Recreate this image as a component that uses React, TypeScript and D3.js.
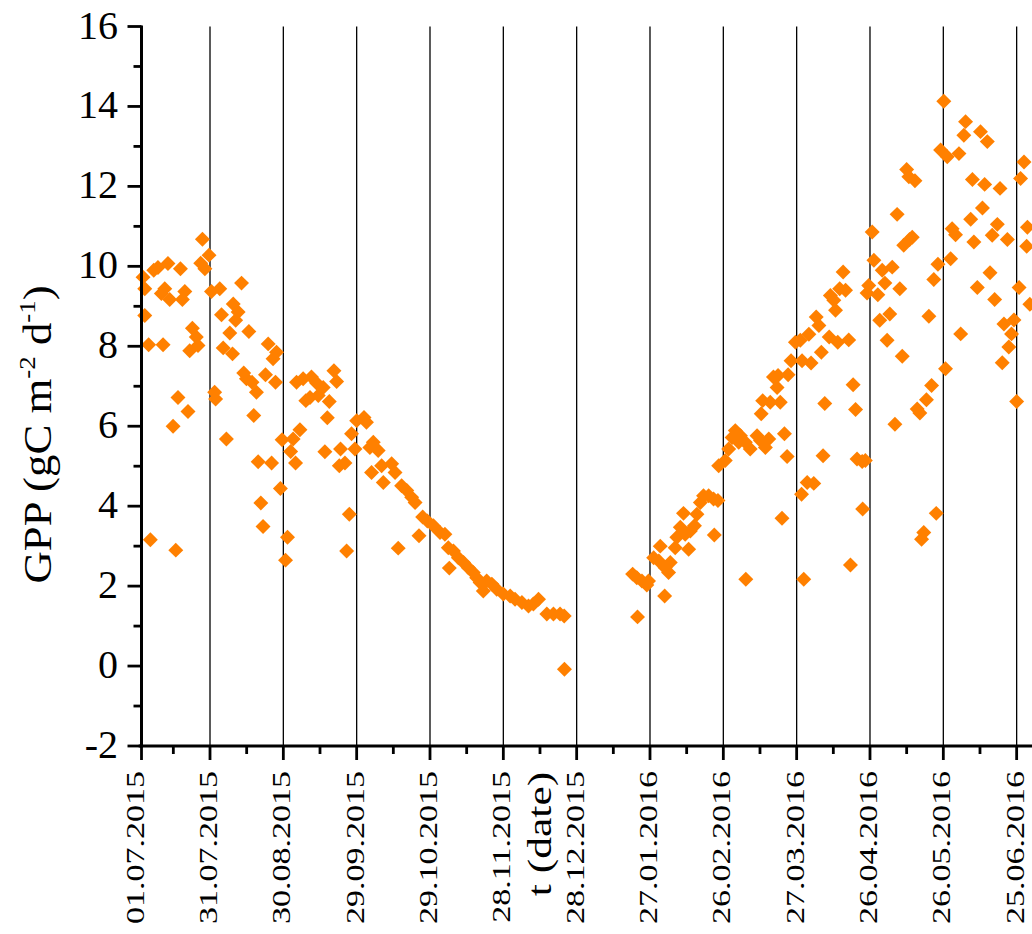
import React from "react";
import * as d3 from "d3";

// ---- data ----
const START_DATE = "2015-07-01";
const END_DATE = "2016-07-01";

const X_TICK_LABELS = [
  "01.07.2015", "31.07.2015", "30.08.2015", "29.09.2015", "29.10.2015",
  "28.11.2015", "28.12.2015", "27.01.2016", "26.02.2016", "27.03.2016",
  "26.04.2016", "26.05.2016", "25.06.2016",
];

const Y_TICKS = [-2, 0, 2, 4, 6, 8, 10, 12, 14, 16];
const Y_MINOR = [-1, 1, 3, 5, 7, 9, 11, 13, 15];

// day offset since 01.07.2015
const DAY_OFFSET = [
  2.6, 3.3, 3.3, 4.9, 5.6, 7.0, 8.7, 10.1, 10.8, 11.5, 12.8, 13.5, 14.9, 16.0, 16.9, 17.9, 18.7, 19.7,
  21.0, 21.7, 22.8, 24.4, 25.1, 26.2, 26.9, 27.9, 29.6, 30.6, 31.9, 32.3, 34.0, 34.7, 35.4, 36.7, 38.1,
  39.2, 39.5, 40.5, 41.5, 42.9, 43.8, 44.9, 45.9, 47.2, 47.9, 49.0, 49.7, 50.8, 51.7, 52.7, 53.8, 55.2,
  55.8, 56.8, 57.2, 58.8, 59.5, 60.9, 61.7, 63.0, 64.0, 65.0, 65.4, 66.8, 68.1, 69.2, 70.9, 71.5, 73.6,
  74.3, 76.3, 77.0, 78.0, 78.8, 80.7, 81.8, 82.9, 83.4, 85.2, 85.9, 87.0, 87.9, 89.3, 90.0, 93.0, 94.0,
  95.4, 96.1, 96.8, 98.8, 100.2, 100.9, 104.3, 105.7, 107.0, 108.4, 110.5, 112.5, 113.9, 115.5, 117.0,
  118.9, 121.4, 124.1, 126.1, 127.5, 127.9, 129.6, 131.6, 133.7, 135.7, 137.7, 139.1, 140.5, 141.8,
  143.2, 145.3, 147.3, 150.0, 152.8, 154.8, 157.6, 160.3, 162.3, 164.4, 167.8, 170.5, 173.2, 174.9, 175.0,
  202.9, 204.6, 204.9, 206.7, 208.7, 209.4, 211.5, 213.6, 214.2, 216.0, 216.2, 217.6, 218.3, 220.3,
  221.0, 222.4, 223.7, 224.4, 225.8, 226.5, 228.2, 229.2, 230.6, 231.9, 234.0, 236.0, 236.3, 237.8,
  238.1, 240.8, 242.2, 243.6, 244.9, 246.3, 247.0, 249.0, 249.2, 251.0, 253.8, 255.2, 255.5, 256.1,
  257.2, 258.6, 259.2, 260.5, 262.0, 262.4, 263.3, 264.0, 265.0, 266.1, 266.5, 267.7, 269.5, 271.5,
  272.0, 272.2, 272.9, 274.3, 275.0, 275.9, 277.0, 278.0, 279.1, 280.1, 280.8, 281.5, 283.3, 283.8,
  285.2, 285.9, 286.8, 287.6, 289.0, 290.0, 291.3, 292.0, 293.1, 294.1, 294.7, 296.8, 297.0, 298.1,
  298.8, 299.5, 300.9, 301.6, 303.2, 304.0, 305.0, 306.1, 307.0, 308.1, 309.1, 310.2, 311.1, 312.2,
  313.2, 313.8, 315.0, 315.9, 316.2, 317.3, 318.4, 319.3, 320.4, 321.1, 322.0, 323.1, 324.1, 325.2,
  326.1, 327.1, 327.8, 328.9, 330.2, 330.9, 331.6, 333.0, 333.6, 335.0, 336.4, 337.1, 338.4, 339.1,
  341.2, 341.9, 342.5, 343.9, 345.2, 346.0, 346.9, 348.0, 349.1, 350.0, 351.0, 352.1, 353.2, 354.1,
  354.8, 356.2, 356.8, 357.9, 358.9, 360.0, 361.0, 361.6, 363.0, 364.1, 364.4, 365.4,
];

const GPP = [
  9.73, 9.44, 8.77, 8.04, 3.16, 9.90, 9.97, 9.32, 8.04, 9.44, 10.07, 9.17, 6.00, 2.90, 6.72, 9.94, 9.17, 9.37,
  6.37, 7.89, 8.45, 8.23, 8.02, 10.08, 10.68, 9.94, 10.28, 9.37, 6.85, 6.68, 9.44, 8.79, 7.96, 5.68, 8.33,
  7.81, 9.06, 8.65, 8.86, 9.58, 7.33, 7.19, 8.37, 7.10, 6.27, 6.85, 5.11, 4.08, 3.49, 7.29, 8.06, 5.08,
  7.69, 7.10, 7.85, 4.44, 5.66, 2.65, 3.22, 5.37, 5.68, 5.08, 7.10, 5.91, 7.19, 6.64, 6.72, 7.23, 7.08,
  6.77, 6.97, 5.36, 6.21, 6.62, 7.39, 7.12, 5.01, 5.43, 5.08, 2.88, 3.80, 5.81, 5.43, 6.14, 6.22, 6.10,
  5.47, 4.84, 5.60, 5.39, 5.01, 4.59, 5.06, 4.84, 2.95, 4.51, 4.39, 4.22, 4.09, 3.26, 3.73,
  3.63, 3.51, 3.34, 3.30, 2.96, 2.45, 2.88, 2.71, 2.59, 2.46, 2.34, 2.21, 2.09, 1.88,
  2.13, 2.05, 1.92, 1.80, 1.75, 1.67, 1.59, 1.50, 1.55, 1.67, 1.30, 1.30, 1.30, 1.25, -0.08,
  2.30, 2.21, 1.23, 2.13, 2.03, 2.13, 2.71, 2.63, 3.00, 1.75, 2.46, 2.34, 2.59, 2.96,
  3.22, 3.47, 3.82, 3.30, 2.92, 3.38, 3.51, 3.80, 4.09, 4.26, 4.26, 4.18, 3.28, 4.14,
  5.01, 5.14, 5.43, 5.72, 5.89, 5.60, 5.76, 5.60, 2.17, 5.43, 5.76, 5.64, 6.31, 6.64,
  5.47, 5.68, 6.60, 7.23, 6.97, 7.27, 6.60, 3.70, 5.81, 5.24, 7.29, 7.64, 8.10, 8.15,
  4.30, 7.64, 2.17, 4.59, 8.30, 7.58, 4.57, 8.73, 8.52, 7.85, 5.26, 6.57, 8.23, 9.27,
  9.15, 8.90, 8.10, 9.44, 9.86, 9.40, 8.16, 2.53, 7.04, 6.42, 5.18, 5.12, 3.93, 5.14,
  9.33, 9.52, 10.86, 10.15, 9.29, 8.65, 9.90, 9.58, 8.15, 8.81, 9.98, 6.05, 11.30, 9.44,
  7.75, 10.53, 12.42, 12.24, 10.67, 10.73, 12.14, 6.43, 6.33, 3.17, 3.34, 6.66, 8.75, 7.02,
  9.67, 3.82, 10.05, 12.91, 14.13, 7.44, 12.74, 10.19, 10.94, 10.79, 12.82, 8.31, 13.28, 13.62,
  11.18, 12.17, 10.61, 9.47, 13.37, 11.46, 12.05, 13.12, 9.84, 10.78, 9.17, 11.05, 11.95, 7.59,
  8.56, 10.67, 7.98, 8.31, 8.66, 6.62, 9.47, 12.20, 12.61, 10.50, 10.98, 9.05,
];

const MARKER_COLOR = "#FF8000";
const FONT = "'Liberation Serif', 'Times New Roman', Times, serif";

export default function App() {
  const W = 1032;
  const H = 934;
  const parseIso = d3.utcParse("%Y-%m-%d");
  const parseTick = d3.utcParse("%d.%m.%Y");
  const start = parseIso(START_DATE) as Date;
  const end = parseIso(END_DATE) as Date;
  const pxPerDay = 2.4444;
  const x0 = 136.67;
  const x = d3
    .scaleUtc()
    .domain([start, end])
    .range([x0, x0 + pxPerDay * d3.utcDay.count(start, end)]);
  const y = d3.scaleLinear().domain([-2, 16]).range([746, 26.5]);

  const axisX = 141.5;
  const yBottom = y(-2);
  const yTop = y(16);

  const majorDates = X_TICK_LABELS.map((s) => parseTick(s) as Date);
  const minorDates: Date[] = [];
  majorDates.forEach((d, i) => {
    const next = i < majorDates.length - 1 ? majorDates[i + 1] : d3.utcDay.offset(d, 30);
    minorDates.push(new Date((d.getTime() + next.getTime()) / 2));
  });

  const points = DAY_OFFSET.map((d, i) => ({
    date: new Date(start.getTime() + d * 864e5),
    v: GPP[i],
  }));

  const markerPath = d3.symbol().type(d3.symbolSquare).size(112)() as string;

  return (
    <svg
      width={W}
      height={H}
      style={{ position: "absolute", left: 0, top: 0, display: "block", background: "#fff" }}
      fontFamily={FONT}
    >
      <rect x={0} y={0} width={W} height={H} fill="#fff" />
      {/* grid lines */}
      {majorDates.slice(1).map((d, i) => (
        <line
          key={"g" + i}
          x1={x(d)}
          x2={x(d)}
          y1={yTop}
          y2={yBottom}
          stroke="#000"
          strokeWidth={1.3}
        />
      ))}

      {/* markers */}
      {points.map((p, i) => (
        <path
          key={"p" + i}
          d={markerPath}
          transform={`translate(${x(p.date)},${y(p.v)}) rotate(45)`}
          fill={MARKER_COLOR}
        />
      ))}

      {/* x axis */}
      <line x1={x0 + 2} x2={W} y1={yBottom} y2={yBottom} stroke="#000" strokeWidth={3} />
      {majorDates.map((d, i) => (
        <line
          key={"xt" + i}
          x1={i === 0 ? axisX : x(d)}
          x2={i === 0 ? axisX : x(d)}
          y1={yBottom}
          y2={yBottom + 14}
          stroke="#000"
          strokeWidth={2.8}
        />
      ))}
      {minorDates.map((d, i) => (
        <line
          key={"xm" + i}
          x1={x(d)}
          x2={x(d)}
          y1={yBottom}
          y2={yBottom + 8}
          stroke="#000"
          strokeWidth={2.8}
        />
      ))}
      {majorDates.map((d, i) => (
        <text
          key={"xl" + i}
          transform={`translate(${x(d) + 7},771) rotate(-90) scale(1.36,1)`}
          textAnchor="end"
          fontSize={25}
          fill="#000"
        >
          {X_TICK_LABELS[i]}
        </text>
      ))}
      <text
        transform={`translate(551,834) rotate(-90) scale(1.28,1)`}
        textAnchor="middle"
        fontSize={34}
        fill="#000"
      >
        t (date)
      </text>

      {/* y axis */}
      <line x1={axisX} x2={axisX} y1={yTop - 1} y2={yBottom + 1.5} stroke="#000" strokeWidth={3} />
      {Y_TICKS.map((t) => (
        <line
          key={"yt" + t}
          x1={axisX - 14}
          x2={axisX}
          y1={y(t)}
          y2={y(t)}
          stroke="#000"
          strokeWidth={2.8}
        />
      ))}
      {Y_MINOR.map((t) => (
        <line
          key={"ym" + t}
          x1={axisX - 8}
          x2={axisX}
          y1={y(t)}
          y2={y(t)}
          stroke="#000"
          strokeWidth={2.8}
        />
      ))}
      {Y_TICKS.map((t) => (
        <text
          key={"yl" + t}
          x={118}
          y={y(t) + 12}
          textAnchor="end"
          fontSize={40}
          fill="#000"
        >
          {String(t)}
        </text>
      ))}
      <text
        transform={`translate(51,434.5) rotate(-90) scale(1.12,1)`}
        textAnchor="middle"
        fontSize={40}
        fill="#000"
      >
        GPP (gC m
        <tspan fontSize={24} dy={-16}>-2</tspan>
        <tspan dy={16}> d</tspan>
        <tspan fontSize={24} dy={-16}>-1</tspan>
        <tspan dy={16}>)</tspan>
      </text>
    </svg>
  );
}
